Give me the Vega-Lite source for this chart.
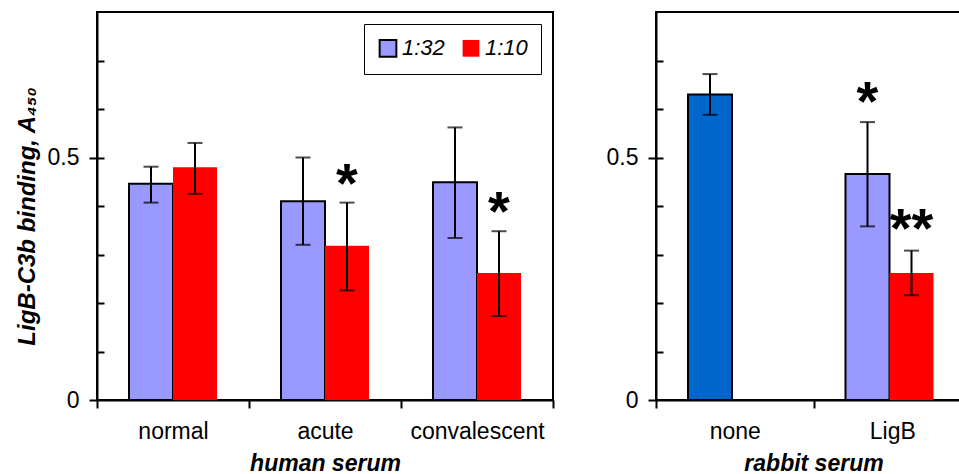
{
  "$schema": "https://vega.github.io/schema/vega-lite/v6.json",
  "padding": {"left": 14, "top": 11, "right": 0, "bottom": 0},
  "config": {
    "font": "Liberation Sans",
    "view": {"stroke": "black", "strokeWidth": 2},
    "axis": {"domainColor": "black", "domainWidth": 2, "tickColor": "black", "tickWidth": 2, "labelColor": "black", "titleColor": "black", "labelFontSize": 23, "titleFontSize": 23, "labelFontWeight": "normal", "titleFontWeight": "bold", "grid": false}
  },
  "hconcat": [
    {
      "width": 456,
      "height": 388,
      "data": {"values": [
        {"grp": "normal", "dil": "1:32", "col": "1:32", "v": 0.446, "lo": 0.407, "hi": 0.481, "star": "", "starY": null},
        {"grp": "normal", "dil": "1:10", "col": "1:10", "v": 0.480, "lo": 0.425, "hi": 0.530, "star": "", "starY": null},
        {"grp": "acute", "dil": "1:32", "col": "1:32", "v": 0.410, "lo": 0.320, "hi": 0.500, "star": "", "starY": null},
        {"grp": "acute", "dil": "1:10", "col": "1:10", "v": 0.318, "lo": 0.226, "hi": 0.407, "star": "*", "starY": 0.459},
        {"grp": "convalescent", "dil": "1:32", "col": "1:32", "v": 0.449, "lo": 0.334, "hi": 0.562, "star": "", "starY": null},
        {"grp": "convalescent", "dil": "1:10", "col": "1:10", "v": 0.262, "lo": 0.173, "hi": 0.348, "star": "*", "starY": 0.403}
      ]},
      "encoding": {
        "x": {"field": "grp", "type": "nominal", "sort": ["normal", "acute", "convalescent"],
          "scale": {"domain": ["normal", "acute", "convalescent"], "paddingInner": 0, "paddingOuter": 0},
          "axis": {"title": "human serum", "titleFontStyle": "italic", "labelAngle": 0, "tickBand": "extent", "tickSize": 8, "labelPadding": 12, "titlePadding": 9}},
        "xOffset": {"field": "dil", "type": "nominal", "scale": {"domain": ["1:32", "1:10"], "paddingInner": 0, "paddingOuter": 0.727}}
      },
      "resolve": {"axis": {"y": "independent"}},
      "layer": [
        {
          "mark": {"type": "bar", "strokeWidth": 2},
          "encoding": {
            "y": {"field": "v", "type": "quantitative", "scale": {"domain": [0, 0.8], "nice": false},
              "axis": {"title": "LigB-C3b binding,  A₄₅₀", "titleFontStyle": "italic", "titleFontSize": 24, "titlePadding": 8, "titleY": 204,
                "values": [0, 0.5], "format": ".1~f", "tickSize": 8, "labelPadding": 10}},
            "color": {"field": "col", "type": "nominal", "scale": {"domain": ["1:32", "1:10"], "range": ["#9999FF", "#FF0000"]},
              "legend": {"orient": "top-right", "direction": "horizontal", "title": null, "symbolType": "square", "symbolSize": 280, "symbolStrokeWidth": 2, "labelFontSize": 22, "labelFontStyle": "italic", "labelOffset": 3, "columnPadding": 13, "strokeColor": "black", "padding": 13, "offset": 12}},
            "stroke": {"field": "col", "type": "nominal", "scale": {"domain": ["1:32", "1:10"], "range": ["black", "transparent"]},
              "legend": {"orient": "top-right", "direction": "horizontal", "title": null, "symbolType": "square", "symbolSize": 280, "symbolStrokeWidth": 2, "labelFontSize": 22, "labelFontStyle": "italic", "labelOffset": 3, "columnPadding": 13, "strokeColor": "black", "padding": 13, "offset": 12}}
          }
        },
        {
          "mark": {"type": "rule", "color": "black", "strokeWidth": 2},
          "encoding": {
            "y": {"field": "lo", "type": "quantitative", "scale": {"domain": [0, 0.8], "nice": false},
              "axis": {"orient": "right", "offset": -456, "title": null, "labels": false, "domain": false, "values": [0.1, 0.2, 0.3, 0.4, 0.5, 0.6, 0.7], "tickSize": 7}},
            "y2": {"field": "hi"}}
        },
        {
          "mark": {"type": "tick", "color": "black", "size": 15, "thickness": 2},
          "encoding": {"y": {"field": "lo", "type": "quantitative", "scale": {"domain": [0, 0.8], "nice": false}, "axis": null}}
        },
        {
          "mark": {"type": "tick", "color": "black", "size": 15, "thickness": 2},
          "encoding": {"y": {"field": "hi", "type": "quantitative", "scale": {"domain": [0, 0.8], "nice": false}, "axis": null}}
        },
        {
          "transform": [{"filter": "datum.star != ''"}],
          "mark": {"type": "text", "fontSize": 56, "fontWeight": "bold", "baseline": "middle", "dy": 8, "color": "black"},
          "encoding": {"y": {"field": "starY", "type": "quantitative", "scale": {"domain": [0, 0.8], "nice": false}, "axis": null}, "text": {"field": "star"}}
        }
      ]
    },
    {
      "width": 315,
      "height": 388,
      "data": {"values": [
        {"grp": "none", "dil": "1:32", "col": "none", "v": 0.630, "lo": 0.588, "hi": 0.672, "star": "", "starY": null},
        {"grp": "LigB", "dil": "1:32", "col": "1:32", "v": 0.466, "lo": 0.358, "hi": 0.573, "star": "*", "starY": 0.629},
        {"grp": "LigB", "dil": "1:10", "col": "1:10", "v": 0.262, "lo": 0.216, "hi": 0.308, "star": "**", "starY": 0.367}
      ]},
      "encoding": {
        "x": {"field": "grp", "type": "nominal", "sort": ["none", "LigB"],
          "scale": {"domain": ["none", "LigB"], "paddingInner": 0, "paddingOuter": 0},
          "axis": {"title": "rabbit serum", "titleFontStyle": "italic", "labelAngle": 0, "tickBand": "extent", "tickSize": 8, "labelPadding": 12, "titlePadding": 9}},
        "xOffset": {"field": "dil", "type": "nominal", "scale": {"domain": ["1:32", "1:10"], "paddingInner": 0, "paddingOuter": 0.73}}
      },
      "resolve": {"axis": {"y": "independent"}},
      "layer": [
        {
          "mark": {"type": "bar", "strokeWidth": 2},
          "encoding": {
            "y": {"field": "v", "type": "quantitative", "scale": {"domain": [0, 0.8], "nice": false},
              "axis": {"title": null, "values": [0, 0.5], "format": ".1~f", "tickSize": 8, "labelPadding": 10}},
            "color": {"field": "col", "type": "nominal", "scale": {"domain": ["1:32", "1:10", "none"], "range": ["#9999FF", "#FF0000", "#0066CC"]}, "legend": null},
            "stroke": {"field": "col", "type": "nominal", "scale": {"domain": ["1:32", "1:10", "none"], "range": ["black", "transparent", "black"]}, "legend": null}
          }
        },
        {
          "mark": {"type": "rule", "color": "black", "strokeWidth": 2},
          "encoding": {
            "y": {"field": "lo", "type": "quantitative", "scale": {"domain": [0, 0.8], "nice": false},
              "axis": {"orient": "right", "offset": -315, "title": null, "labels": false, "domain": false, "values": [0.1, 0.2, 0.3, 0.4, 0.5, 0.6, 0.7], "tickSize": 7}},
            "y2": {"field": "hi"}}
        },
        {
          "mark": {"type": "tick", "color": "black", "size": 15, "thickness": 2},
          "encoding": {"y": {"field": "lo", "type": "quantitative", "scale": {"domain": [0, 0.8], "nice": false}, "axis": null}}
        },
        {
          "mark": {"type": "tick", "color": "black", "size": 15, "thickness": 2},
          "encoding": {"y": {"field": "hi", "type": "quantitative", "scale": {"domain": [0, 0.8], "nice": false}, "axis": null}}
        },
        {
          "transform": [{"filter": "datum.star != ''"}],
          "mark": {"type": "text", "fontSize": 56, "fontWeight": "bold", "baseline": "middle", "dy": 8, "color": "black"},
          "encoding": {"y": {"field": "starY", "type": "quantitative", "scale": {"domain": [0, 0.8], "nice": false}, "axis": null}, "text": {"field": "star"}}
        }
      ]
    }
  ],
  "spacing": 50,
  "resolve": {"scale": {"color": "independent", "stroke": "independent", "y": "independent", "x": "independent"}, "legend": {"color": "independent", "stroke": "independent"}}
}
